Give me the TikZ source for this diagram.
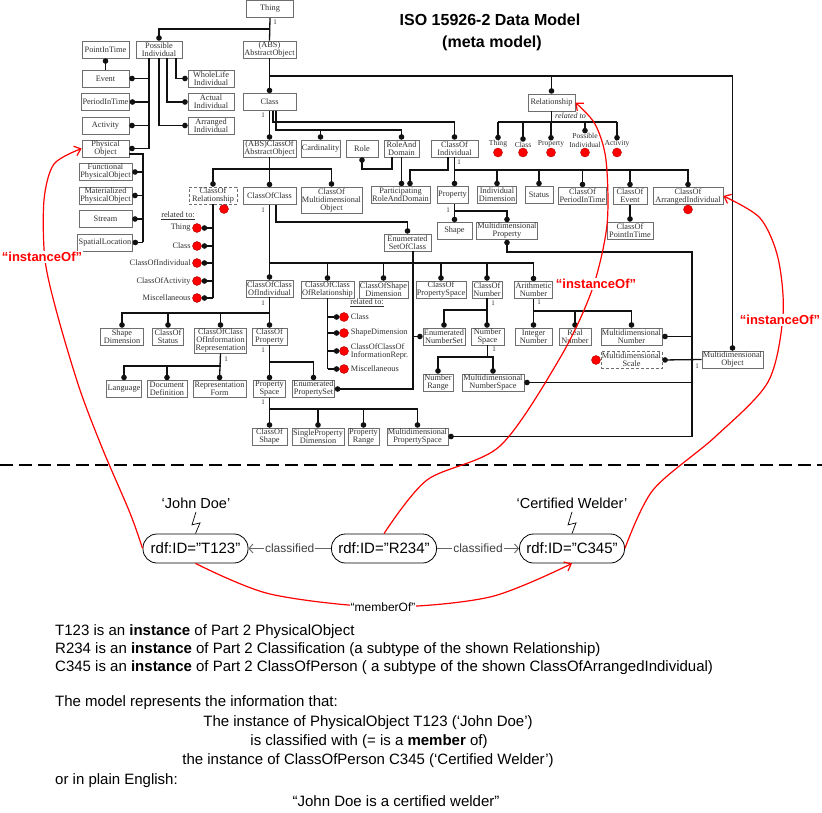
\documentclass[tikz,border=0pt]{standalone}
\usepackage{fontspec}
\setmainfont{Liberation Sans}
\newfontfamily\boxFont{Liberation Serif}
\usetikzlibrary{arrows.meta, positioning}

\tikzset{
    box/.style={draw=boxColour, line width=0.6pt, fill=white, text=textColour,
        font=\boxFont\fontsize{8.3}{8}\selectfont, align=center,
        inner xsep=1pt, inner ysep=0.5pt, minimum height=17pt, minimum width=#1pt},
    box/.default=30,
    dashedBox/.style={box=#1, dash pattern=on 3pt off 2pt},
    dashedBox/.default=30,
    listLabel/.style={text=textColour, font=\boxFont\fontsize{8.3}{8}\selectfont, inner sep=0.5pt},
    oneLabel/.style={text=textColour, font=\boxFont\fontsize{7}{7}\selectfont, inner sep=0pt},
    link/.style={line width=1.3pt, draw=linkColour},
    dotLink/.style={link, -{Circle[length=5.5pt]}},
    redDot/.style={circle, fill=dotColour, draw=dotColour!70!black, line width=0.4pt, inner sep=0pt, minimum size=9pt},
    instanceArrow/.style={draw=dotColour, line width=1.2pt, -{Straight Barb[length=6pt, width=10pt]}},
    instanceLabel/.style={text=dotColour, fill=white, font=\bfseries\fontsize{13}{13}\selectfont, inner sep=1pt},
    rdfNode/.style={draw, line width=0.8pt, rounded corners=14pt, minimum width=105pt, minimum height=29pt, font=\fontsize{15}{15}\selectfont},
    classArrow/.style={draw=black!60, line width=0.9pt, -{Straight Barb[length=4pt, width=9pt]}},
    smallLabel/.style={fill=white, text=black!75, font=\fontsize{12}{12}\selectfont, inner sep=1pt},
    noteText/.style={font=\fontsize{15}{18}\selectfont, inner sep=0pt},
}

\begin{document}
\begin{tikzpicture}[x=1pt, y=-1pt]
    \definecolor{boxColour}{HTML}{6E6E6E}
    \definecolor{textColour}{HTML}{303030}
    \definecolor{linkColour}{HTML}{111111}
    \definecolor{dotColour}{HTML}{FF0000}

    \useasboundingbox (0,0) rectangle (822,813);

    % Title
    \node[font=\bfseries\fontsize{16}{16}\selectfont] (title) at (490,20) {ISO 15926-2 Data Model};
    \node[font=\bfseries\fontsize{16}{16}\selectfont] (subTitle) at (492,43) {(meta model)};

    % Top of the model
    \node[box=47] (thing) at (270,9) {Thing};
    \node[box=46] (possInd) at (159,49.5) {Possible\\Individual};
    \node[box=53] (absObj) at (269.5,49.5) {(ABS)\\AbstractObject};

    % Possible individuals
    \node[box=47] (pointInTime) at (105.5,49.5) {PointInTime};
    \node[box=47] (event) at (105.5,78.5) {Event};
    \node[box=47] (periodInTime) at (105.5,102) {PeriodInTime};
    \node[box=47] (activity) at (105.5,125.5) {Activity};
    \node[box=47] (physObj) at (105.5,148.5) {Physical\\Object};
    \node[box=53] (funcPO) at (105.5,172) {Functional\\PhysicalObject};
    \node[box=53] (matPO) at (105.5,195.5) {Materialized\\PhysicalObject};
    \node[box=53] (stream) at (105.5,219) {Stream};
    \node[box=54] (spatLoc) at (105,242.5) {SpatialLocation};
    \node[box=46] (wholeLife) at (211,78.5) {WholeLife\\Individual};
    \node[box=46] (actualInd) at (211,102) {Actual\\Individual};
    \node[box=46] (arrangedInd) at (211,125.5) {Arranged\\Individual};

    % Abstract objects
    \node[box=53] (class) at (269.5,102) {Class};
    \node[box=47] (relationship) at (551.5,102.5) {Relationship};
    \node[box=53] (absCoAO) at (269.5,148.5) {(ABS)ClassOf\\AbstractObject};
    \node[box=39] (cardinality) at (320.5,148.5) {Cardinality};
    \node[box=32] (role) at (362,148.5) {Role};
    \node[box=35] (roleAndDomain) at (401.5,148.5) {RoleAnd\\Domain};
    \node[box=47] (coInd) at (454.5,148.5) {ClassOf\\Individual};

    \node[dashedBox=48] (coRel) at (213,195.5) {ClassOf\\Relationship};
    \node[box=53] (coClass) at (269.5,196) {ClassOfClass};
    \node[box=59, minimum height=26pt] (coMDO) at (331.5,200) {ClassOf\\Multidimensional\\Object};
    \node[box=57] (partRAD) at (400.5,195) {Participating\\RoleAndDomain};
    \node[box=31] (property) at (452.5,195) {Property};
    \node[box=38] (indDim) at (497,195) {Individual\\Dimension};
    \node[box=28] (status) at (539,195) {Status};
    \node[box=47] (coPIT) at (582.5,196) {ClassOf\\PeriodInTime};
    \node[box=34] (coEvent) at (630,196) {ClassOf\\Event};
    \node[box=70] (coAI) at (688,196) {ClassOf\\ArrangedIndividual};
    \node[box=46] (coPointIT) at (630,230.5) {ClassOf\\PointInTime};
    \node[box=35] (shape) at (454.5,231) {Shape};
    \node[box=60] (mdProp) at (507,231) {Multidimensional\\Property};
    \node[box=47] (enumSoC) at (407.5,242.5) {Enumerated\\SetOfClass};

    % Classes of class
    \node[box=47] (coCoInd) at (269.5,288.5) {ClassOfClass\\OfIndividual};
    \node[box=51] (coCoRel) at (327.5,289.5) {ClassOfClass\\OfRelationship};
    \node[box=47] (coShapeDim) at (383.5,289.5) {ClassOfShape\\Dimension};
    \node[box=48] (coPropSpace) at (441,289.5) {ClassOf\\PropertySpace};
    \node[box=30] (coNumber) at (487,289.5) {ClassOf\\Number};
    \node[box=37] (arithNum) at (533.5,290) {Arithmetic\\Number};
    \node[box=42] (enumNumSet) at (444,336.5) {Enumerated\\NumberSet};
    \node[box=33] (numSpace) at (487.5,336.5) {Number\\Space};
    \node[box=37] (intNum) at (533.5,336.5) {Integer\\Number};
    \node[box=32] (realNum) at (575,336.5) {Real\\Number};
    \node[box=61] (mdNum) at (631.5,336.5) {Multidimensional\\Number};
    \node[dashedBox=61] (mdScale) at (631.5,360) {Multidimensional\\Scale};
    \node[box=59] (mdObj) at (732.5,359.5) {Multidimensional\\Object};
    \node[box=30] (numRange) at (438,382.5) {Number\\Range};
    \node[box=62] (mdNumSpace) at (493,382.5) {Multidimensional\\NumberSpace};

    \node[box=43] (shapeDim) at (122,336.5) {Shape\\Dimension};
    \node[box=31] (coStatus) at (168,336.5) {ClassOf\\Status};
    \node[box=51, minimum height=25pt] (coCoIR) at (220.5,340.5) {ClassOfClass\\OfInformation\\Representation};
    \node[box=35] (coProperty) at (269.5,336.5) {ClassOf\\Property};
    \node[box=34] (language) at (124,389) {Language};
    \node[box=40] (docDef) at (167,389) {Document\\Definition};
    \node[box=53] (repForm) at (219.5,389) {Representation\\Form};
    \node[box=32] (propSpace) at (269.5,389) {Property\\Space};
    \node[box=41] (enumPropSet) at (313.5,389) {Enumerated\\PropertySet};
    \node[box=35] (coShape) at (269.5,436.5) {ClassOf\\Shape};
    \node[box=50] (spd) at (318,436.5) {SingleProperty\\Dimension};
    \node[box=31] (propRange) at (363.5,436.5) {Property\\Range};
    \node[box=61] (mdPropSpace) at (417.5,436.5) {Multidimensional\\PropertySpace};

    % Cardinality marks
    \node[oneLabel] (oneThing) at (275,22) {1};
    \node[oneLabel] (oneClass) at (263,115) {1};
    \node[oneLabel] (oneCoInd) at (459,162) {1};
    \node[oneLabel] (oneCoClass) at (263,210) {1};
    \node[oneLabel] (oneProperty) at (448,210) {1};
    \node[oneLabel] (oneCoCoInd) at (263,303) {1};
    \node[oneLabel] (oneCoProperty) at (263,350) {1};
    \node[oneLabel] (oneCoCoIR) at (226,359) {1};
    \node[oneLabel] (onePropSpace) at (263,402) {1};
    \node[oneLabel] (oneCoNumber) at (493,303) {1};
    \node[oneLabel] (oneArithNum) at (539,302) {1};
    \node[oneLabel] (oneNumSpace) at (494,349) {1};
    \node[oneLabel] (oneMdObj) at (697,366) {1};

    % Draw Thing and possible individuals
    \draw[link] (thing.south) -- (absObj.north);
    \draw[dotLink] (thing.south |- 0,29) -| (possInd.north);
    \draw[dotLink] (event.north) -- (pointInTime.south);
    \foreach \target in {event, periodInTime, activity, physObj}
        \draw[dotLink] ([xshift=-10pt]possInd.south) |- (\target.east);
    \draw[dotLink] (possInd.south) |- (arrangedInd.west);
    \draw[dotLink] ([xshift=8pt]possInd.south) |- (actualInd.west);
    \draw[dotLink] ([xshift=17pt]possInd.south) |- (wholeLife.west);
    \draw[link] ([yshift=-5.5pt]physObj.east) -| (143,242.5);
    \foreach \target in {funcPO, matPO, stream, spatLoc}
        \draw[dotLink] (\target.east -| 143,0) -- (\target.east);

    % Draw abstract objects
    \draw[dotLink] (absObj.south) -- (class.north);
    \draw[dotLink] (absObj.south |- 0,76) -| (mdObj.north);
    \draw[dotLink] (relationship.north |- 0,76) -- (relationship.north);
    \draw[dotLink] (class.south) -- (absCoAO.north);
    \draw[dotLink] ([xshift=3.5pt]class.south) |- (coInd.north |- 0,122) -- (coInd.north);
    \draw[dotLink] ([xshift=6.5pt]class.south) |- (roleAndDomain.north |- 0,130) -- (roleAndDomain.north);
    \draw[dotLink] (cardinality.north |- 0,130) -- (cardinality.north);

    \draw[dotLink] (absCoAO.south) -- (coClass.north);
    \draw[dotLink] (absCoAO.south |- 0,169) -| (coRel.north);
    \draw[dotLink] (absCoAO.south |- 0,169) -| (coMDO.north);

    \draw[dotLink] ([xshift=-9.5pt]roleAndDomain.south) |- (role.south |- 0,169) -- (role.south);
    \draw[dotLink] (roleAndDomain.south) -- (roleAndDomain.south |- partRAD.north);
    \draw[dotLink] ([xshift=-6.5pt]coInd.south) |- (410,170) -- (410,170 |- partRAD.north);
    \draw[dotLink] (coInd.south) -- (coInd.south |- property.north);
    \draw[dotLink] (coInd.south |- 0,170) -| (coAI.north);
    \foreach \target in {indDim, status, coPIT, coEvent}
        \draw[dotLink] (\target.north |- 0,170) -- (\target.north);
    \draw[dotLink] (coEvent.south) -- (coPointIT.north);

    \draw[dotLink] (property.south -| shape.north) -- (shape.north);
    \draw[dotLink] (shape.north |- 0,211) -| (mdProp.north);

    % Draw multidimensional bracket
    \draw[link, {Circle[length=5.5pt]}-{Circle[length=5.5pt]}] (mdProp.south) |- (692,252) |- (mdPropSpace.east);
    \draw[dotLink] (mdNum.east -| 692,0) -- (mdNum.east);
    \draw[dotLink] (mdNumSpace.east -| 692,0) -- (mdNumSpace.east);
    \draw[link, {Circle[length=5.5pt]}-] (mdScale.east) -- (mdObj.west);

    % Draw classes of class
    \draw[dotLink] (coClass.south) -- (coCoInd.north);
    \draw[dotLink] ([xshift=6.5pt]coClass.south) |- (enumSoC.north |- 0,222) -- (enumSoC.north);
    \draw[dotLink] (coClass.south |- 0,263) -| (arithNum.north);
    \foreach \target in {coCoRel, coShapeDim, coPropSpace, coNumber}
        \draw[dotLink] (\target.north |- 0,263) -- (\target.north);

    \draw[dotLink] ([xshift=5.5pt]enumSoC.south) |- (enumPropSet.east);
    \draw[dotLink] (enumNumSet.west -| 413,0) -- (enumNumSet.west);

    \draw[dotLink] (coCoInd.south) -- (coProperty.north);
    \draw[dotLink] (coCoInd.south |- 0,313) -| (shapeDim.north);
    \foreach \target in {coStatus, coCoIR}
        \draw[dotLink] (\target.north |- 0,313) -- (\target.north);

    \draw[dotLink] (coCoIR.south) -- (repForm.north);
    \draw[dotLink] (coCoIR.south |- 0,366) -| (language.north);
    \draw[dotLink] (docDef.north |- 0,366) -- (docDef.north);

    \draw[dotLink] (coProperty.south) -- (propSpace.north);
    \draw[dotLink] (coProperty.south |- 0,362) -| (enumPropSet.north);

    \draw[dotLink] (propSpace.south) -- (coShape.north);
    \draw[dotLink] (propSpace.south |- 0,409) -| (mdPropSpace.north);
    \foreach \target in {spd, propRange}
        \draw[dotLink] (\target.north |- 0,409) -- (\target.north);

    \draw[dotLink] (coNumber.south) -- (coNumber.south |- numSpace.north);
    \draw[dotLink] (coNumber.south |- 0,310) -| (enumNumSet.north);
    \draw[link] (numSpace.south) -- (numSpace.south |- 0,357);
    \draw[dotLink] (numSpace.south |- 0,357) -| (numRange.north);
    \draw[dotLink] (numSpace.south |- 0,357) -| (mdNumSpace.north);

    \draw[dotLink] (arithNum.south) -- (intNum.north);
    \draw[dotLink] (arithNum.south |- 0,311) -| (mdNum.north);
    \draw[dotLink] (realNum.north |- 0,311) -- (realNum.north);

    % Related to lists
    \node[font=\boxFont\itshape\fontsize{8}{8}\selectfont, text=textColour, anchor=west, inner sep=0pt] (relHead) at (555,116) {related to};
    \draw[link] (relationship.south) -- (relationship.south |- 0,122);
    \foreach \name/\xx/\txt in {Thing/498/Thing, Class/523/Class, Property/551/Property, PossInd/585/{Possible\\Individual}, Activity/617/Activity} {
        \node[redDot] (relDot\name) at (\xx,152.5) {};
        \node[listLabel, font=\boxFont\fontsize{7.6}{8.4}\selectfont, align=center, anchor=south, inner sep=0pt] (rel\name) at (\xx,147.5) {\txt};
        \draw[dotLink] (rel\name.north |- 0,122) -- (rel\name.north);
    }
    \draw[link] (relThing.north |- 0,122) -- (relActivity.north |- 0,122);

    \node[redDot] (coRelDot) at (224,209) {};
    \node[listLabel] (crlHead) at (178,216) {\underline{related to:}};
    \draw[link] (coRel.south) -- (coRel.south |- 0,298);
    \foreach \name/\yy/\txt in {Thing/228/Thing, Class/246/Class, CoInd/263/ClassOfIndividual, CoAct/281/ClassOfActivity, Misc/298/Miscellaneous} {
        \node[redDot] (crlDot\name) at (197,\yy) {};
        \node[listLabel, left=1pt of crlDot\name] (crl\name) {\txt};
        \draw[dotLink] (coRel.south |- 0,\yy) -- (crlDot\name.east);
    }

    \node[listLabel] (ccrlHead) at (367,303) {\underline{related to:}};
    \draw[link] (coCoRel.south) -- (coCoRel.south |- 0,369);
    \foreach \name/\yy/\txt in {Class/317/Class, ShapeDim/333/ShapeDimension, CoCoIR/351/{ClassOfClassOf\\InformationRepr.}, Misc/369/Miscellaneous} {
        \node[redDot] (ccrlDot\name) at (344,\yy) {};
        \node[listLabel, align=left, right=1.5pt of ccrlDot\name] (ccrl\name) {\txt};
        \draw[dotLink] (coCoRel.south |- 0,\yy) -- (ccrlDot\name.west);
    }

    \node[redDot] (coAIDot) at (688,209.5) {};
    \node[redDot] (mdScaleDot) at (596,360) {};

    % Separator
    \draw[line width=2pt, dash pattern=on 13pt off 6pt] (0,465) -- (822,465);

    % Instance level
    \node[rdfNode] (t123) at (195.5,548.5) {rdf:ID="T123"};
    \node[rdfNode] (r234) at (384,548.5) {rdf:ID="R234"};
    \node[rdfNode] (c345) at (572,548.5) {rdf:ID="C345"};
    \node[font=\fontsize{14.5}{14.5}\selectfont] (johnDoe) at (196,503) {‘John Doe’};
    \node[font=\fontsize{14.5}{14.5}\selectfont] (welder) at (572,503) {‘Certified Welder’};
    \draw[line width=0.7pt] (johnDoe.south) -- ++(-4,13) -- ++(8,-2) -- (t123.north);
    \draw[line width=0.7pt] (welder.south) -- ++(-4,13) -- ++(8,-2) -- (c345.north);
    \draw[classArrow] (r234.west) -- node[smallLabel] (classified1) {classified} (t123.east);
    \draw[classArrow] (r234.east) -- node[smallLabel] (classified2) {classified} (c345.west);

    % Draw instanceOf arrows
    \draw[instanceArrow] plot[smooth] coordinates {(t123.west) (130,513) (103,450) (80,390) (58,317) (45,260) (44,200) (54,164) (physObj.west)};
    \draw[instanceArrow] plot[smooth] coordinates {(r234.north) (427,480) (500,446) (560,358) (592,290) (607,225) (606,160) (595,124) (relationship.east)};
    \draw[instanceArrow] plot[smooth] coordinates {(c345.east) (653,490) (715,437) (768,382) (783,315) (778,258) (760,218) (coAI.east)};
    \draw[instanceArrow] plot[smooth] coordinates {(t123.south) (270,594) (383,607) (490,597) (c345.south)};
    \node[instanceLabel] (instLeft) at (42,257) {“instanceOf”};
    \node[instanceLabel] (instMid) at (596,284) {“instanceOf”};
    \node[instanceLabel] (instRight) at (780,320) {“instanceOf”};
    \node[smallLabel, text=black] (memberOf) at (383,607) {“memberOf”};

    % Explanation
    \node[noteText, anchor=base west] (note1) at (55,635) {T123 is an \textbf{instance} of Part 2 PhysicalObject};
    \node[noteText, anchor=base west] (note2) at (55,653) {R234 is an \textbf{instance} of Part 2 Classification (a subtype of the shown Relationship)};
    \node[noteText, anchor=base west] (note3) at (55,671) {C345 is an \textbf{instance} of Part 2 ClassOfPerson ( a subtype of the shown ClassOfArrangedIndividual)};
    \node[noteText, anchor=base west] (note4) at (55,706) {The model represents the information that:};
    \node[noteText, anchor=base] (note5) at (368,726) {The instance of PhysicalObject T123 (‘John Doe’)};
    \node[noteText, anchor=base] (note6) at (369,745) {is classified with (= is a \textbf{member} of)};
    \node[noteText, anchor=base] (note7) at (368,764) {the instance of ClassOfPerson C345 (‘Certified Welder’)};
    \node[noteText, anchor=base west] (note8) at (55,784) {or in plain English:};
    \node[noteText, anchor=base] (note9) at (396,806) {“John Doe is a certified welder”};

\end{tikzpicture}
\end{document}
